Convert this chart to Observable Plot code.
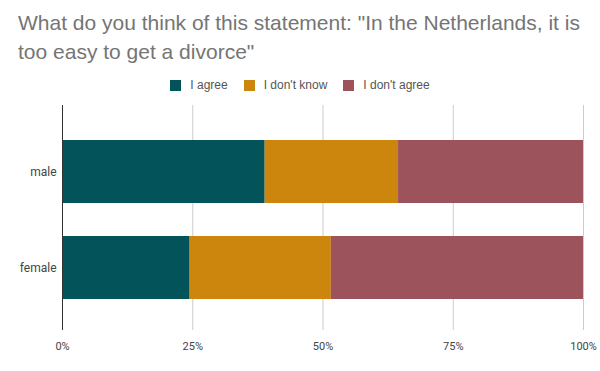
<!DOCTYPE html>
<html>
<head>
<meta charset="utf-8">
<script src="https://cdn.jsdelivr.net/npm/d3@7"></script>
<script src="https://cdn.jsdelivr.net/npm/@observablehq/plot@0.6"></script>
<style>
  html, body { margin: 0; padding: 0; background: #fff; }
  #wrap { width: 600px; height: 371px; position: relative; overflow: hidden; }
  #title { position: absolute; left: 18px; top: 8px; width: 580px; white-space: nowrap; font-family: "Liberation Sans", Arial, sans-serif; font-size: 21px; line-height: 29px; color: #757575; }
  #legend { position: absolute; left: 0; top: 78px; width: 600px; display: flex; justify-content: center; font-family: "Liberation Sans", Arial, sans-serif; font-size: 12px; color: #555; }
  .item { display: flex; align-items: center; margin: 0 8px; }
  .sw { width: 11px; height: 11px; margin-right: 9px; }
  #chart { position: absolute; left: 0; top: 100px; }
</style>
</head>
<body>
<div id="wrap">
  <div id="title">What do you think of this statement: "In the Netherlands, it is<br>too easy to get a divorce"</div>
  <div id="legend"></div>
  <div id="chart"></div>
</div>
<script>
const groups = ["male", "female"];
const responses = ["I agree", "I don't know", "I don't agree"];
const colors = ["#03535b", "#cd860d", "#9d535b"];
const maleValues = [38.9, 25.6, 35.5];
const femaleValues = [24.5, 27.1, 48.4];
const xTicks = [0, 25, 50, 75, 100];

const data = [];
[maleValues, femaleValues].forEach((vals, gi) => {
  vals.forEach((v, ri) => data.push({group: groups[gi], response: responses[ri], value: v}));
});

const legend = document.getElementById("legend");
responses.forEach((r, i) => {
  const it = document.createElement("div");
  it.className = "item";
  const sw = document.createElement("div");
  sw.className = "sw";
  sw.style.background = colors[i];
  const t = document.createElement("span");
  t.textContent = r;
  it.appendChild(sw); it.appendChild(t);
  legend.appendChild(it);
});

const chart = Plot.plot({
  width: 600,
  height: 271,
  marginLeft: 62,
  marginRight: 17,
  marginTop: 5,
  marginBottom: 41,
  style: {fontFamily: "Roboto, 'Liberation Sans', Arial, sans-serif", fontSize: "12px", color: "#444"},
  x: {domain: [0, 100], ticks: xTicks, tickFormat: d => d + "%", label: null},
  y: {domain: groups, range: [23.5, 215.5], paddingInner: 0.344, paddingOuter: 0.172, label: null},
  color: {domain: responses, range: colors},
  marks: [
    Plot.ruleX(xTicks.filter(d => d > 0), {stroke: "#ccc", strokeWidth: 1}),
    Plot.barX(data, {x: "value", y: "group", fill: "response"}),
    Plot.ruleX([0], {stroke: "#333", strokeWidth: 1}),
    Plot.axisX({ticks: xTicks, tickFormat: d => d + "%", tickSize: 0, tickPadding: 12, fontSize: 11, fill: "#444", label: null}),
    Plot.axisY({tickSize: 0, tickPadding: 6, fontSize: 12, fill: "#444", label: null})
  ]
});
document.getElementById("chart").appendChild(chart);
</script>
</body>
</html>
